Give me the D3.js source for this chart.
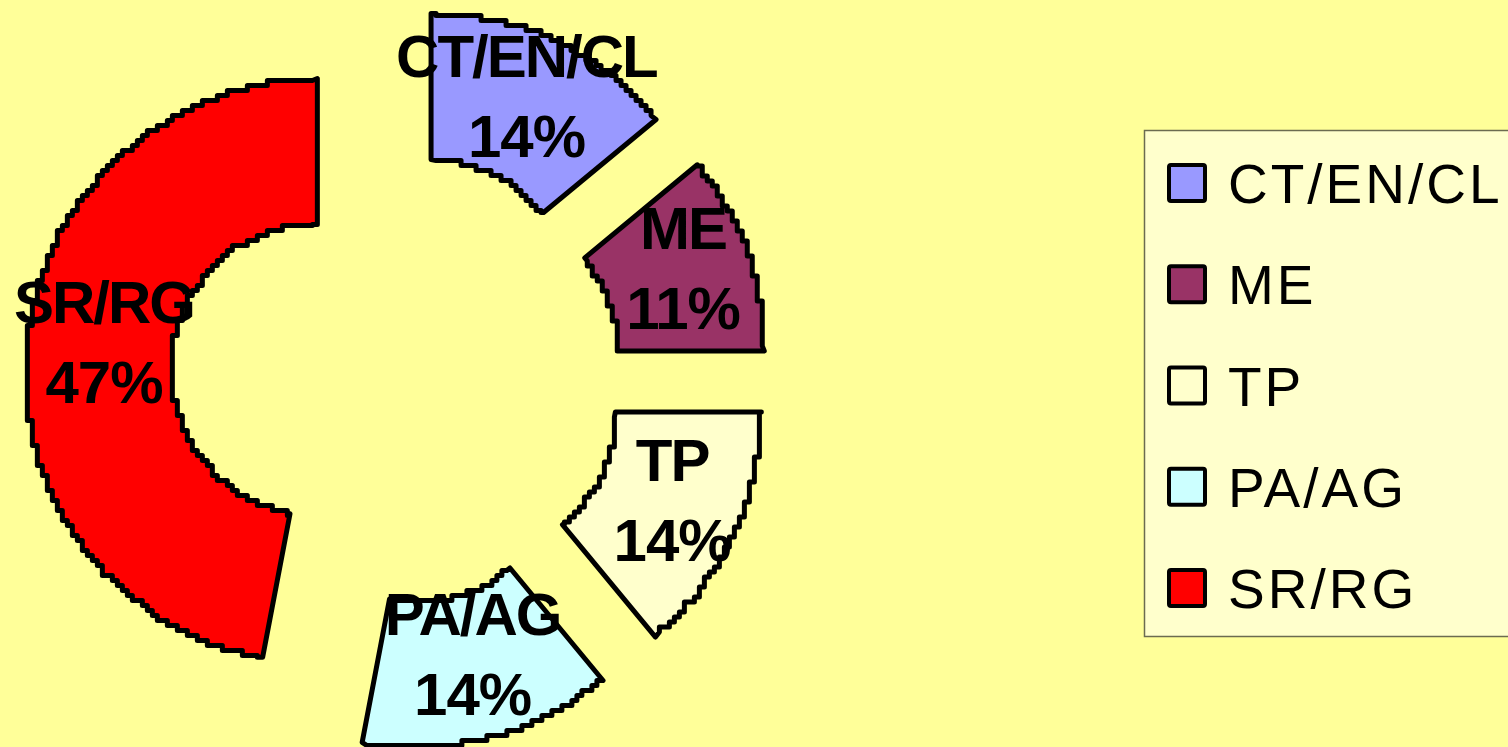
<!DOCTYPE html>
<html>
<head>
<meta charset="utf-8">
<script src="https://cdn.jsdelivr.net/npm/d3@7"></script>
<style>
  body { margin: 0; background: #ffff99; }
  svg { display: block; }
  .slice-name, .slice-value { font-family: "Liberation Sans", Arial, sans-serif; font-weight: bold; font-size: 60px; fill: #000; }
  .slice-name { letter-spacing: -2px; }
  .slice-value { letter-spacing: -1px; }
  .legend-label { font-family: "Liberation Sans", Arial, sans-serif; font-size: 55px; letter-spacing: 3px; fill: #000; }
</style>
</head>
<body>
<div id="chart"></div>
<script>
// data
const CATEGORIES = ["CT/EN/CL", "ME", "TP", "PA/AG", "SR/RG"];
const PERCENTS = [14, 11, 14, 14, 47];
const COLORS = ["#9999ff", "#993366", "#ffffcc", "#ccffff", "#ff0000"];

const width = 1508;
const height = 747;

// donut geometry
const center = { x: 397, y: 378 };
const outerRadius = 292;
const innerRadius = 146;
const explode = 80;
const labelRadius = 224;
const grid = 5;

const slices = CATEGORIES.map((name, i) => ({ name, value: PERCENTS[i], color: COLORS[i] }));

const pie = d3.pie().sort(null).value((d) => d.value);
const arcs = pie(slices);

// quantized point on a circle (gives the stepped edge)
function arcPoint(radius, angle) {
  return [
    Math.round((radius * Math.sin(angle)) / grid) * grid,
    Math.round((-radius * Math.cos(angle)) / grid) * grid,
  ];
}

function stepArc(radius, a0, a1) {
  const n = Math.max(2, Math.ceil((Math.abs(a1 - a0) * radius) / 4));
  const pts = d3.range(n + 1).map((k) => arcPoint(radius, a0 + ((a1 - a0) * k) / n));
  pts[0] = [radius * Math.sin(a0), -radius * Math.cos(a0)];
  pts[n] = [radius * Math.sin(a1), -radius * Math.cos(a1)];
  const out = [pts[0]];
  for (let k = 1; k < pts.length; k++) {
    const p = out[out.length - 1];
    const q = pts[k];
    if (p[0] !== q[0] && p[1] !== q[1] && k < pts.length - 1) out.push([q[0], p[1]]);
    out.push(q);
  }
  return out;
}

function slicePath(d) {
  const outer = stepArc(outerRadius, d.startAngle, d.endAngle);
  const inner = stepArc(innerRadius, d.endAngle, d.startAngle);
  return d3.line()(outer.concat(inner)) + "Z";
}

function sliceOffset(d) {
  const mid = (d.startAngle + d.endAngle) / 2;
  return [explode * Math.sin(mid), -explode * Math.cos(mid)];
}

const svg = d3
  .select("#chart")
  .append("svg")
  .attr("width", width)
  .attr("height", height);

svg.append("rect").attr("width", width).attr("height", height).attr("fill", "#ffff99");

const chart = svg.append("g").attr("transform", `translate(${center.x}, ${center.y})`);

chart
  .selectAll("path.slice")
  .data(arcs)
  .enter()
  .append("path")
  .attr("class", "slice")
  .attr("transform", (d) => `translate(${sliceOffset(d)})`)
  .attr("d", slicePath)
  .attr("fill", (d) => d.data.color)
  .attr("stroke", "#000")
  .attr("stroke-width", 5)
  .attr("stroke-linejoin", "round");

// labels, kept inside the plot like the spreadsheet does
const labels = svg.append("g");

arcs.forEach((d) => {
  const mid = (d.startAngle + d.endAngle) / 2;
  const [ox, oy] = sliceOffset(d);
  let x = center.x + ox + labelRadius * Math.sin(mid);
  let y = center.y + oy - labelRadius * Math.cos(mid);
  y = Math.min(y, height - 86);

  const g = labels.append("g");
  const name = g
    .append("text")
    .attr("class", "slice-name")
    .attr("text-anchor", "middle")
    .attr("y", -26)
    .text(d.data.name);
  g.append("text")
    .attr("class", "slice-value")
    .attr("text-anchor", "middle")
    .attr("y", 54)
    .text(`${d.data.value}%`);

  const halfWidth = name.node().getComputedTextLength() / 2;
  x = Math.max(x, 14 + halfWidth);
  g.attr("transform", `translate(${x}, ${y})`);
});

// legend
const legend = svg.append("g").attr("transform", "translate(1144, 130)");

legend
  .append("rect")
  .attr("x", 0.5)
  .attr("y", 0.5)
  .attr("width", 420)
  .attr("height", 506)
  .attr("fill", "#ffffcc")
  .attr("stroke", "#6b6b50")
  .attr("stroke-width", 1.5);

const items = legend
  .selectAll("g.item")
  .data(slices)
  .enter()
  .append("g")
  .attr("class", "item")
  .attr("transform", (d, i) => `translate(0, ${53 + i * 101.25})`);

items
  .append("rect")
  .attr("x", 25)
  .attr("y", -18)
  .attr("width", 36)
  .attr("height", 36)
  .attr("fill", (d) => d.color)
  .attr("stroke", "#000")
  .attr("stroke-width", 4)
  .attr("rx", 2);

items
  .append("text")
  .attr("class", "legend-label")
  .attr("x", 84)
  .attr("y", 20)
  .text((d) => d.name);
</script>
</body>
</html>
